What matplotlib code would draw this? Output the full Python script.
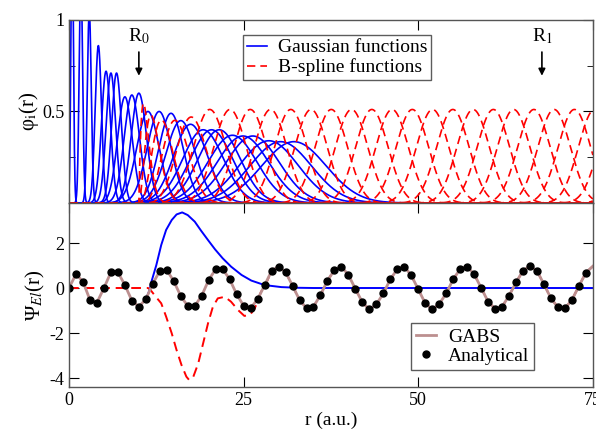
import numpy as np
import matplotlib
matplotlib.use("Agg")
import matplotlib.pyplot as plt
from matplotlib.ticker import MultipleLocator

plt.rcParams["font.family"] = "serif"
plt.rcParams["font.serif"] = ["Liberation Serif", "DejaVu Serif"]
plt.rcParams["mathtext.fontset"] = "stix"
plt.rcParams["axes.unicode_minus"] = False

# Gaussian basis: centre, peak height, width (a.u.)
gauss_center = [0.45, 1.7, 2.9, 4.2, 5.3, 6.0, 6.8, 8.0, 9.0, 10.0, 11.3, 12.9, 14.6,
                16.0, 17.4, 19.2, 20.4, 21.5, 23.4, 24.9, 26.3, 28.6, 30.3, 32.2]
gauss_height = [1.5, 1.25, 1.05, 0.86, 0.72, 0.71, 0.71, 0.58, 0.59, 0.60, 0.50, 0.50, 0.49,
                0.45, 0.43, 0.40, 0.40, 0.40, 0.37, 0.366, 0.366, 0.34, 0.335, 0.335]
gauss_width = [0.18, 0.24, 0.28, 0.45, 0.65, 0.68, 0.70, 1.05, 1.1, 1.1, 1.6, 1.7, 1.75,
               2.1, 2.4, 2.9, 3.0, 3.0, 3.5, 3.7, 3.8, 4.2, 4.4, 4.6]

# B-spline basis: order, knot spacing, inner boundary R0
spline_order = 7
spline_step = 2.9
R0, R1 = 10.0, 67.7

# analytical wavefunction sampled at r = 0, 1, ..., 75
r_grid = np.arange(0, 76)
psi_exact = [0.0, 0.62, 0.28, -0.53, -0.65, 0.0, 0.70, 0.70, 0.13, -0.56,
             -0.83, -0.50, 0.20, 0.76, 0.80, 0.30, -0.36, -0.80, -0.80, -0.34,
             0.36, 0.84, 0.84, 0.39, -0.28, -0.79, -0.89, -0.50, 0.12, 0.76,
             0.95, 0.71, 0.10, -0.53, -0.90, -0.83, -0.31, 0.33, 0.80, 0.95,
             0.58, -0.04, -0.64, -0.95, -0.73, -0.24, 0.39, 0.84, 0.95, 0.56,
             -0.06, -0.68, -0.95, -0.71, -0.24, 0.39, 0.84, 0.95, 0.61, 0.01,
             -0.61, -0.92, -0.83, -0.34, 0.25, 0.77, 0.98, 0.76, 0.16, -0.46,
             -0.86, -0.90, -0.53, 0.09, 0.68, 0.97]

# Gaussian part of the expansion (zero beyond r ~ 33)
gpart_r = [11.0, 11.5, 11.8, 12.5, 13.2, 13.9, 14.7, 15.4, 16.2, 17.0, 18.0, 18.9,
           19.9, 20.9, 22.0, 23.2, 24.7, 26.1, 28.0, 30.4, 32.8, 35.0, 75.0]
gpart_v = [-0.50, -0.12, 0.28, 1.02, 1.91, 2.58, 3.02, 3.27, 3.36, 3.24, 2.95, 2.55,
           2.13, 1.72, 1.32, 0.95, 0.58, 0.33, 0.13, 0.04, 0.01, 0.0, 0.0]

# B-spline part of the expansion up to r = 28; beyond that it carries the whole wave
bpart_r = [0.0, 11.3, 11.6, 12.4, 13.2, 13.9, 14.7, 15.4, 16.1, 16.8, 17.2, 17.8,
           18.5, 19.2, 19.9, 20.6, 21.3, 22.3, 23.2, 24.2, 25.1, 25.9, 26.6, 27.5,
           28.0]
bpart_v = [0.0, 0.0, -0.06, -0.38, -0.68, -1.27, -2.01, -2.76, -3.42, -3.94, -4.09,
           -3.94, -3.35, -2.46, -1.57, -0.83, -0.46, -0.39, -0.61, -0.98, -1.24,
           -1.20, -0.90, -0.16, 0.05]
bpart_r = bpart_r + list(r_grid[29:])
bpart_v = bpart_v + psi_exact[29:]


def bspline(knots, i, k, x):
    """Cox-de Boor recursion for B_{i,k}(x)."""
    if k == 1:
        return ((x >= knots[i]) & (x < knots[i + 1])).astype(float)
    out = np.zeros_like(x)
    d1 = knots[i + k - 1] - knots[i]
    d2 = knots[i + k] - knots[i + 1]
    if d1 > 0:
        out += (x - knots[i]) / d1 * bspline(knots, i, k - 1, x)
    if d2 > 0:
        out += (knots[i + k] - x) / d2 * bspline(knots, i + 1, k - 1, x)
    return out


fig = plt.figure(figsize=(5.96, 4.30), dpi=100)
ax_top = fig.add_axes([0.1158, 0.528, 0.879, 0.4255])
ax_bot = fig.add_axes([0.1158, 0.10, 0.879, 0.428])

x = np.linspace(0, 75, 3000)
dash = (0, (5, 3))

for c, h, w in zip(gauss_center, gauss_height, gauss_width):
    ax_top.plot(x, h * np.exp(-(x - c) ** 2 / (2 * w ** 2)), color="#0000ff", lw=1.2)

# clamped knot vector at R0, first spline dropped (boundary condition)
inner = np.arange(R0, 100, spline_step)
knots = np.concatenate([[R0] * (spline_order - 1), inner])
for i in range(1, len(knots) - spline_order):
    y = bspline(knots, i, spline_order, x)
    ax_top.plot(x, y, color="#ff0000", lw=1.2, ls=dash)

ax_top.plot([], [], color="#0000ff", lw=1.2, label="Gaussian functions")
ax_top.plot([], [], color="#ff0000", lw=1.2, ls=dash, label="B-spline functions")

for pos, name in ((R0, r"R$_0$"), (R1, r"R$_1$")):
    ax_top.annotate("", xy=(pos, 0.68), xytext=(pos, 0.84),
                    arrowprops=dict(arrowstyle="-|>", color="black", lw=1.2))
    ax_top.text(pos, 0.86, name, ha="center", va="bottom", fontsize=14)

ax_top.set_xlim(0, 75)
ax_top.set_ylim(0, 1)
ax_top.set_yticks([0.5, 1.0])
ax_top.set_yticklabels(["0.5", "1"])
ax_top.yaxis.set_minor_locator(MultipleLocator(0.25))
ax_top.xaxis.set_major_locator(MultipleLocator(25))
ax_top.tick_params(labelbottom=False)
ax_top.set_ylabel(r"φ$_{\mathrm{i}}$(r)", fontsize=15, labelpad=1)
leg = ax_top.legend(loc="upper left", bbox_to_anchor=(0.332, 0.918), fontsize=14,
                    frameon=True, fancybox=False, edgecolor="#333333",
                    handlelength=1.05, handletextpad=0.55, borderpad=0.2,
                    labelspacing=0.1, borderaxespad=0)
leg.get_frame().set_linewidth(1.0)

ax_bot.plot(gpart_r, gpart_v, color="#0000ff", lw=1.4)
ax_bot.plot(bpart_r, bpart_v, color="#ff0000", lw=1.4, ls=dash)
ax_bot.plot(r_grid, psi_exact, color="#bc8f8f", lw=2.0, label="GABS")
ax_bot.plot(r_grid[:-1], psi_exact[:-1], "o", color="black", ms=5, label="Analytical")

ax_bot.set_xlim(0, 75)
ax_bot.set_ylim(-4.4, 3.78)
ax_bot.set_yticks([-4, -2, 0, 2])
ax_bot.xaxis.set_major_locator(MultipleLocator(25))
ax_bot.set_xlabel("r (a.u.)", fontsize=14, labelpad=2)
ax_bot.set_ylabel(r"Ψ$_{El}$(r)", fontsize=15, labelpad=2)
leg2 = ax_bot.legend(loc="lower left", bbox_to_anchor=(0.653, 0.092), fontsize=14,
                     frameon=True, fancybox=False, edgecolor="#333333",
                     handlelength=1.05, handletextpad=0.6, borderpad=0.25,
                     labelspacing=0.1, borderaxespad=0)
leg2.get_frame().set_linewidth(1.0)

for ax in (ax_top, ax_bot):
    ax.tick_params(which="both", direction="in", top=True, right=True, labelsize=13)
    ax.tick_params(which="major", length=7)
    ax.tick_params(which="minor", length=4)
    for s in ax.spines.values():
        s.set_color("#555555")
        s.set_linewidth(1.0)

fig.savefig("out.png", dpi=100)
